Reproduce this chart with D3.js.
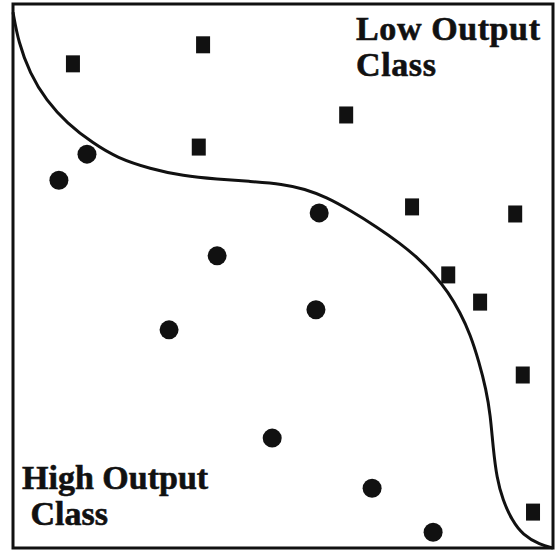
<!DOCTYPE html>
<html>
<head>
<meta charset="utf-8">
<script src="https://cdn.jsdelivr.net/npm/d3@7"></script>
<style>
  html, body { margin: 0; padding: 0; background: #fff; }
  svg { display: block; }
</style>
</head>
<body>
<svg id="chart" width="555" height="554"></svg>
<script>
// Low output class (squares)
const squaresX = [1.11, 3.52, 6.17, 3.44, 7.39, 9.30, 8.06, 8.65, 9.44, 9.63];
const squaresY = [8.90, 9.25, 7.96, 7.37, 6.27, 6.14, 5.02, 4.52, 3.18, 0.66];
// High output class (circles)
const circlesX = [1.37, 0.85, 5.67, 3.78, 2.89, 5.61, 4.80, 6.65, 7.78];
const circlesY = [7.24, 6.76, 6.16, 5.37, 4.01, 4.38, 2.02, 1.10, 0.29];
// Decision boundary
const boundaryX = [0.00, 0.10, 0.31, 0.62, 1.00, 1.48, 1.93, 2.54, 3.15, 3.78, 4.39, 5.00, 5.40, 5.80, 6.24, 6.74, 7.17, 7.50, 7.80, 8.06, 8.28, 8.47, 8.63, 8.76, 8.84, 8.89, 8.96, 9.07, 9.24, 9.44, 9.76, 10.0];
const boundaryY = [9.85, 9.30, 8.73, 8.22, 7.81, 7.44, 7.17, 6.97, 6.84, 6.78, 6.74, 6.69, 6.60, 6.45, 6.21, 5.90, 5.60, 5.33, 5.03, 4.70, 4.33, 3.92, 3.42, 2.92, 2.45, 1.85, 1.28, 0.88, 0.51, 0.24, 0.06, 0.00];
// Labels
const labelLow = ["Low Output", "Class"];
const labelHigh = ["High Output", " Class"];

(function () {
const svg = d3.select("#chart");
const mLeft = 13, mRight = 553, mTop = 4, mBottom = 548;
const x = d3.scaleLinear().domain([0, 10]).range([mLeft, mRight]);
const y = d3.scaleLinear().domain([0, 10]).range([mBottom, mTop]);

svg.append("rect").attr("width", 555).attr("height", 554).attr("fill", "#fff");

// boundary curve
const pts = boundaryX.map((v, i) => [v, boundaryY[i]]);
svg.append("path")
  .datum(pts)
  .attr("fill", "none")
  .attr("stroke", "#111")
  .attr("stroke-width", 3)
  .attr("d", d3.line().x(d => x(d[0])).y(d => y(d[1])).curve(d3.curveBasis));

// squares
const sq = squaresX.map((v, i) => [v, squaresY[i]]);
const sw = 14, sh = 17;
svg.selectAll("rect.sq").data(sq).enter().append("rect")
  .attr("class", "sq")
  .attr("x", d => x(d[0]) - sw / 2)
  .attr("y", d => y(d[1]) - sh / 2)
  .attr("width", sw).attr("height", sh)
  .attr("fill", "#111");

// circles
const ci = circlesX.map((v, i) => [v, circlesY[i]]);
svg.selectAll("ellipse.ci").data(ci).enter().append("ellipse")
  .attr("class", "ci")
  .attr("cx", d => x(d[0]))
  .attr("cy", d => y(d[1]))
  .attr("rx", 9.5).attr("ry", 9.5)
  .attr("fill", "#111");

// border
svg.append("rect")
  .attr("x", mLeft).attr("y", mTop)
  .attr("width", mRight - mLeft).attr("height", mBottom - mTop)
  .attr("fill", "none").attr("stroke", "#111").attr("stroke-width", 3);

// labels
const fontFam = "'Liberation Serif', 'Times New Roman', serif";
const tLow = svg.append("text")
  .attr("font-family", fontFam).attr("font-weight", "bold").attr("font-size", 34)
  .attr("fill", "#111").attr("stroke", "#111").attr("stroke-width", 0.6)
  .attr("letter-spacing", 0.6);
labelLow.forEach((s, i) => tLow.append("tspan").attr("x", 356).attr("y", 40 + i * 36).text(s));

const tHigh = svg.append("text")
  .attr("font-family", fontFam).attr("font-weight", "bold").attr("font-size", 34)
  .attr("fill", "#111").attr("stroke", "#111").attr("stroke-width", 0.6)
  .attr("xml:space", "preserve").style("white-space", "pre");
labelHigh.forEach((s, i) => tHigh.append("tspan").attr("x", 22).attr("y", 489 + i * 36).text(s));
})();
</script>
</body>
</html>
